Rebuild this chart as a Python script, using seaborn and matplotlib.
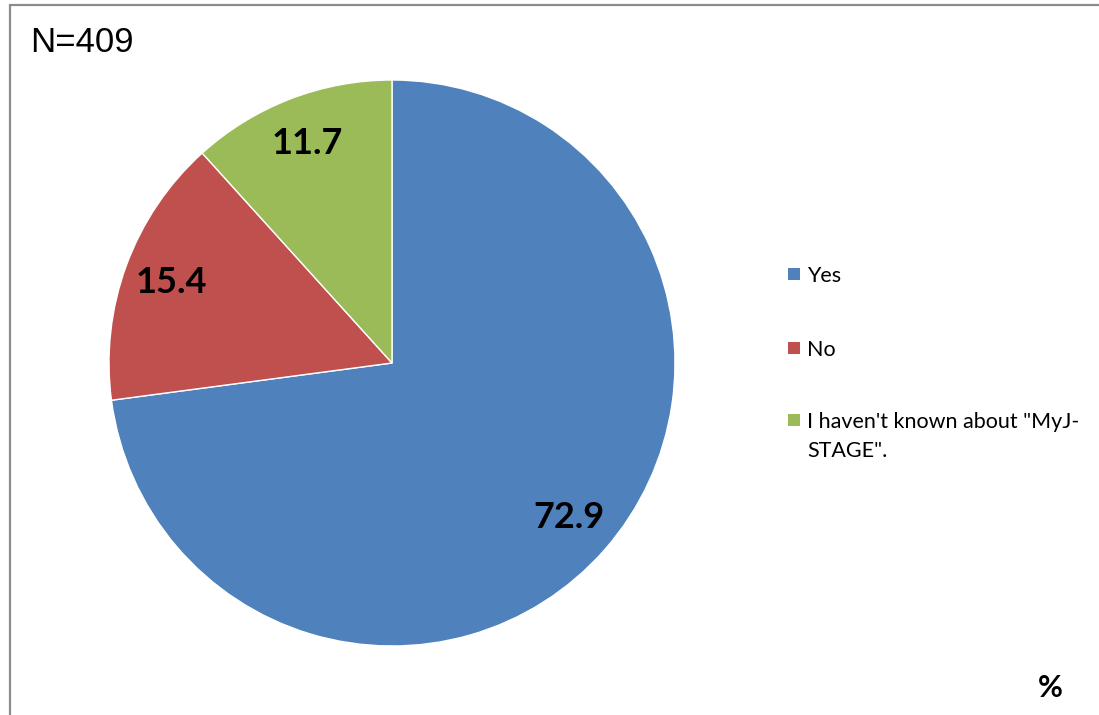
import matplotlib
matplotlib.use("Agg")
import matplotlib.pyplot as plt
from matplotlib.patches import Rectangle
from matplotlib.lines import Line2D
import seaborn as sns

# Survey answers (%)
labels = ["Yes", "No", "I haven't known about \"MyJ-\nSTAGE\"."]
values = [72.9, 15.4, 11.7]
colors = ["#4F81BD", "#C0504D", "#9BBB59"]
n_text = "N=409"

sns.set_style("white")
plt.rcParams['font.family'] = ['Lato', 'DejaVu Sans']
plt.rcParams['text.color'] = 'black'

W, H = 1099, 715
fig = plt.figure(figsize=(W / 100, H / 100), dpi=100)

# outer frame: only top and left edges are inside the picture
frame_kw = dict(color="#8c8c8c", linewidth=1.6, transform=fig.transFigure)
fig.add_artist(Line2D([10 / W, 1.0], [1 - 5 / H, 1 - 5 / H], **frame_kw))
fig.add_artist(Line2D([10 / W, 10 / W], [0.0, 1 - 5 / H], **frame_kw))

cx, cy, r = 392, 363, 283
ax = fig.add_axes([(cx - r) / W, (H - cy - r) / H, 2 * r / W, 2 * r / H])
wedges, texts, autotexts = ax.pie(
    values, colors=colors, startangle=90, counterclock=False,
    autopct="%.1f", pctdistance=0.83, radius=1.0,
    wedgeprops=dict(edgecolor="white", linewidth=1.0),
    textprops=dict(fontsize=26, fontweight="bold", color="black"))
ax.set_xlim(-1, 1)
ax.set_ylim(-1, 1)
ax.set_aspect("equal")
ax.axis("off")

# legend, drawn by hand so the wrapped entry keeps its marker on line one
legend_y = [274, 348, 420]
for lab, col, y in zip(labels, colors, legend_y):
    fig.add_artist(Rectangle((788 / W, 1 - (y + 6) / H), 12 / W, 12 / H,
                             transform=fig.transFigure, facecolor=col,
                             edgecolor="none"))
    fig.text(807 / W, 1 - (y - 8) / H, lab, fontsize=15.5, va="top",
             ha="left", linespacing=1.55)

fig.text(30 / W, 1 - 42 / H, n_text, fontsize=25, family="Liberation Sans",
         va="center", ha="left")
fig.text(1050 / W, 1 - 688 / H, "%", fontsize=22, fontweight="bold",
         va="center", ha="center")

fig.savefig("out.png", dpi=100)
